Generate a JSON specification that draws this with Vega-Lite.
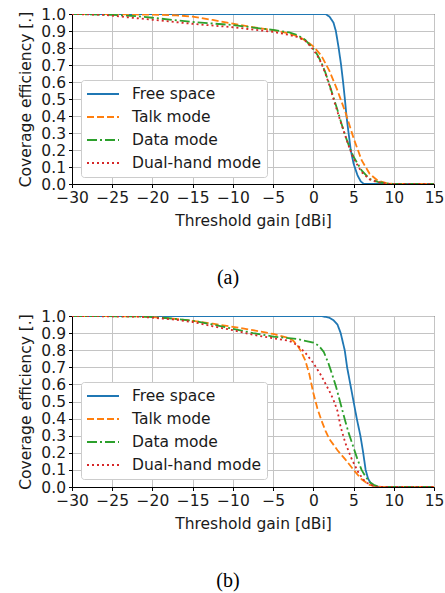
{
  "$schema": "https://vega.github.io/schema/vega-lite/v6.json",
  "padding": {"left": 18, "top": 6, "right": 2, "bottom": 2},
  "background": "white",
  "config": {
    "font": "DejaVu Sans",
    "view": {"stroke": "black", "strokeWidth": 1},
    "axis": {
      "labelFont": "DejaVu Sans", "labelFontSize": 15.5, "labelColor": "#1a1a1a",
      "titleFont": "DejaVu Sans", "titleFontSize": 15.5, "titleFontWeight": "normal", "titleColor": "#1a1a1a",
      "grid": true, "gridColor": "#c4c4c4", "gridWidth": 1,
      "domain": true, "domainColor": "black", "domainWidth": 1,
      "tickColor": "black", "tickSize": 3.5, "tickWidth": 1, "labelPadding": 3, "labelOverlap": false, "labelFlush": false
    },
    "legend": {
      "orient": "none", "legendX": 9, "legendY": 66,
      "fillColor": "white", "strokeColor": "#cccccc", "cornerRadius": 3, "padding": 5,
      "labelFont": "DejaVu Sans", "labelFontSize": 15.5, "labelColor": "#1a1a1a",
      "symbolType": "M-1,0H3", "symbolSize": 256, "symbolStrokeWidth": 1.8,
      "labelOffset": 28, "rowPadding": 5, "title": null
    },
    "title": {"font": "Liberation Serif", "fontSize": 20, "fontWeight": "normal", "color": "black"}
  },
  "datasets": {
    "panelA": [
      {"mode": "Free space", "x": -30, "y": 1},
      {"mode": "Free space", "x": 1.5, "y": 1},
      {"mode": "Free space", "x": 2.0, "y": 0.985},
      {"mode": "Free space", "x": 2.5, "y": 0.95},
      {"mode": "Free space", "x": 2.8, "y": 0.9},
      {"mode": "Free space", "x": 3.15, "y": 0.8},
      {"mode": "Free space", "x": 3.45, "y": 0.7},
      {"mode": "Free space", "x": 3.7, "y": 0.6},
      {"mode": "Free space", "x": 3.92, "y": 0.5},
      {"mode": "Free space", "x": 4.12, "y": 0.4},
      {"mode": "Free space", "x": 4.38, "y": 0.3},
      {"mode": "Free space", "x": 4.65, "y": 0.2},
      {"mode": "Free space", "x": 5.0, "y": 0.12},
      {"mode": "Free space", "x": 5.5, "y": 0.05},
      {"mode": "Free space", "x": 5.9, "y": 0.015},
      {"mode": "Free space", "x": 6.3, "y": 0},
      {"mode": "Free space", "x": 15, "y": 0},
      {"mode": "Talk mode", "x": -30, "y": 1},
      {"mode": "Talk mode", "x": -25, "y": 0.999},
      {"mode": "Talk mode", "x": -20, "y": 0.996},
      {"mode": "Talk mode", "x": -17, "y": 0.992},
      {"mode": "Talk mode", "x": -15, "y": 0.985},
      {"mode": "Talk mode", "x": -12.5, "y": 0.965},
      {"mode": "Talk mode", "x": -10, "y": 0.943},
      {"mode": "Talk mode", "x": -7.5, "y": 0.922},
      {"mode": "Talk mode", "x": -5, "y": 0.905},
      {"mode": "Talk mode", "x": -3, "y": 0.885},
      {"mode": "Talk mode", "x": -2, "y": 0.87},
      {"mode": "Talk mode", "x": -1, "y": 0.845},
      {"mode": "Talk mode", "x": 0, "y": 0.81},
      {"mode": "Talk mode", "x": 1, "y": 0.755},
      {"mode": "Talk mode", "x": 2, "y": 0.665},
      {"mode": "Talk mode", "x": 3, "y": 0.55},
      {"mode": "Talk mode", "x": 4, "y": 0.42},
      {"mode": "Talk mode", "x": 5, "y": 0.27},
      {"mode": "Talk mode", "x": 6, "y": 0.14},
      {"mode": "Talk mode", "x": 7, "y": 0.06},
      {"mode": "Talk mode", "x": 8, "y": 0.02},
      {"mode": "Talk mode", "x": 9, "y": 0.006},
      {"mode": "Talk mode", "x": 10, "y": 0},
      {"mode": "Talk mode", "x": 15, "y": 0},
      {"mode": "Data mode", "x": -30, "y": 1},
      {"mode": "Data mode", "x": -25, "y": 0.995},
      {"mode": "Data mode", "x": -22, "y": 0.987},
      {"mode": "Data mode", "x": -20, "y": 0.978},
      {"mode": "Data mode", "x": -15, "y": 0.953},
      {"mode": "Data mode", "x": -10, "y": 0.935},
      {"mode": "Data mode", "x": -5, "y": 0.906},
      {"mode": "Data mode", "x": -3, "y": 0.892},
      {"mode": "Data mode", "x": -2, "y": 0.877},
      {"mode": "Data mode", "x": -1, "y": 0.848},
      {"mode": "Data mode", "x": 0, "y": 0.795},
      {"mode": "Data mode", "x": 0.5, "y": 0.76},
      {"mode": "Data mode", "x": 1, "y": 0.715},
      {"mode": "Data mode", "x": 1.5, "y": 0.655},
      {"mode": "Data mode", "x": 2, "y": 0.585},
      {"mode": "Data mode", "x": 2.5, "y": 0.51},
      {"mode": "Data mode", "x": 3, "y": 0.435},
      {"mode": "Data mode", "x": 3.5, "y": 0.355},
      {"mode": "Data mode", "x": 4, "y": 0.28},
      {"mode": "Data mode", "x": 4.5, "y": 0.215},
      {"mode": "Data mode", "x": 5, "y": 0.16},
      {"mode": "Data mode", "x": 6, "y": 0.08},
      {"mode": "Data mode", "x": 7, "y": 0.03},
      {"mode": "Data mode", "x": 8, "y": 0.012},
      {"mode": "Data mode", "x": 9, "y": 0.004},
      {"mode": "Data mode", "x": 10, "y": 0},
      {"mode": "Data mode", "x": 15, "y": 0},
      {"mode": "Dual-hand mode", "x": -30, "y": 1},
      {"mode": "Dual-hand mode", "x": -26, "y": 0.995},
      {"mode": "Dual-hand mode", "x": -23, "y": 0.98},
      {"mode": "Dual-hand mode", "x": -20, "y": 0.966},
      {"mode": "Dual-hand mode", "x": -15, "y": 0.942},
      {"mode": "Dual-hand mode", "x": -10, "y": 0.922},
      {"mode": "Dual-hand mode", "x": -5, "y": 0.895},
      {"mode": "Dual-hand mode", "x": -3, "y": 0.877},
      {"mode": "Dual-hand mode", "x": -2, "y": 0.865},
      {"mode": "Dual-hand mode", "x": -1, "y": 0.843},
      {"mode": "Dual-hand mode", "x": 0, "y": 0.79},
      {"mode": "Dual-hand mode", "x": 0.5, "y": 0.755},
      {"mode": "Dual-hand mode", "x": 1, "y": 0.71},
      {"mode": "Dual-hand mode", "x": 1.5, "y": 0.65},
      {"mode": "Dual-hand mode", "x": 2, "y": 0.58},
      {"mode": "Dual-hand mode", "x": 2.5, "y": 0.5},
      {"mode": "Dual-hand mode", "x": 3, "y": 0.425},
      {"mode": "Dual-hand mode", "x": 3.5, "y": 0.35},
      {"mode": "Dual-hand mode", "x": 4, "y": 0.28},
      {"mode": "Dual-hand mode", "x": 4.5, "y": 0.21},
      {"mode": "Dual-hand mode", "x": 5, "y": 0.15},
      {"mode": "Dual-hand mode", "x": 6, "y": 0.07},
      {"mode": "Dual-hand mode", "x": 7, "y": 0.027},
      {"mode": "Dual-hand mode", "x": 8, "y": 0.01},
      {"mode": "Dual-hand mode", "x": 9, "y": 0.003},
      {"mode": "Dual-hand mode", "x": 10, "y": 0},
      {"mode": "Dual-hand mode", "x": 15, "y": 0}
    ],
    "panelB": [
      {"mode": "Free space", "x": -30, "y": 1},
      {"mode": "Free space", "x": 1, "y": 1},
      {"mode": "Free space", "x": 2, "y": 0.99},
      {"mode": "Free space", "x": 2.5, "y": 0.975},
      {"mode": "Free space", "x": 3, "y": 0.95},
      {"mode": "Free space", "x": 3.4, "y": 0.9},
      {"mode": "Free space", "x": 3.9, "y": 0.8},
      {"mode": "Free space", "x": 4.2, "y": 0.7},
      {"mode": "Free space", "x": 4.6, "y": 0.6},
      {"mode": "Free space", "x": 5, "y": 0.5},
      {"mode": "Free space", "x": 5.4, "y": 0.4},
      {"mode": "Free space", "x": 5.85, "y": 0.3},
      {"mode": "Free space", "x": 6.2, "y": 0.2},
      {"mode": "Free space", "x": 6.5, "y": 0.1},
      {"mode": "Free space", "x": 6.8, "y": 0.05},
      {"mode": "Free space", "x": 7.2, "y": 0.015},
      {"mode": "Free space", "x": 7.7, "y": 0},
      {"mode": "Free space", "x": 15, "y": 0},
      {"mode": "Talk mode", "x": -30, "y": 1},
      {"mode": "Talk mode", "x": -22, "y": 0.998},
      {"mode": "Talk mode", "x": -20, "y": 0.994},
      {"mode": "Talk mode", "x": -17.5, "y": 0.985},
      {"mode": "Talk mode", "x": -15, "y": 0.972},
      {"mode": "Talk mode", "x": -12.5, "y": 0.955},
      {"mode": "Talk mode", "x": -10, "y": 0.937},
      {"mode": "Talk mode", "x": -7.5, "y": 0.917},
      {"mode": "Talk mode", "x": -5, "y": 0.895},
      {"mode": "Talk mode", "x": -3, "y": 0.87},
      {"mode": "Talk mode", "x": -2.5, "y": 0.855},
      {"mode": "Talk mode", "x": -2, "y": 0.83},
      {"mode": "Talk mode", "x": -1.5, "y": 0.79},
      {"mode": "Talk mode", "x": -1, "y": 0.74},
      {"mode": "Talk mode", "x": -0.5, "y": 0.66},
      {"mode": "Talk mode", "x": 0, "y": 0.55},
      {"mode": "Talk mode", "x": 0.5, "y": 0.46},
      {"mode": "Talk mode", "x": 1, "y": 0.39},
      {"mode": "Talk mode", "x": 1.5, "y": 0.33},
      {"mode": "Talk mode", "x": 2, "y": 0.28},
      {"mode": "Talk mode", "x": 3, "y": 0.215},
      {"mode": "Talk mode", "x": 4, "y": 0.16},
      {"mode": "Talk mode", "x": 5, "y": 0.1},
      {"mode": "Talk mode", "x": 6, "y": 0.045},
      {"mode": "Talk mode", "x": 7, "y": 0.012},
      {"mode": "Talk mode", "x": 8, "y": 0.002},
      {"mode": "Talk mode", "x": 8.5, "y": 0},
      {"mode": "Talk mode", "x": 15, "y": 0},
      {"mode": "Data mode", "x": -30, "y": 1},
      {"mode": "Data mode", "x": -22, "y": 0.998},
      {"mode": "Data mode", "x": -20, "y": 0.994},
      {"mode": "Data mode", "x": -17.5, "y": 0.985},
      {"mode": "Data mode", "x": -15, "y": 0.972},
      {"mode": "Data mode", "x": -12.5, "y": 0.95},
      {"mode": "Data mode", "x": -10, "y": 0.925},
      {"mode": "Data mode", "x": -7.5, "y": 0.9},
      {"mode": "Data mode", "x": -5, "y": 0.88},
      {"mode": "Data mode", "x": -2, "y": 0.865},
      {"mode": "Data mode", "x": 0, "y": 0.845},
      {"mode": "Data mode", "x": 0.7, "y": 0.825},
      {"mode": "Data mode", "x": 1.3, "y": 0.79},
      {"mode": "Data mode", "x": 1.9, "y": 0.72},
      {"mode": "Data mode", "x": 2.4, "y": 0.65},
      {"mode": "Data mode", "x": 2.8, "y": 0.59},
      {"mode": "Data mode", "x": 3.2, "y": 0.52},
      {"mode": "Data mode", "x": 3.6, "y": 0.45},
      {"mode": "Data mode", "x": 4, "y": 0.38},
      {"mode": "Data mode", "x": 4.4, "y": 0.315},
      {"mode": "Data mode", "x": 5, "y": 0.23},
      {"mode": "Data mode", "x": 5.5, "y": 0.16},
      {"mode": "Data mode", "x": 6, "y": 0.1},
      {"mode": "Data mode", "x": 6.5, "y": 0.06},
      {"mode": "Data mode", "x": 7, "y": 0.03},
      {"mode": "Data mode", "x": 7.5, "y": 0.013},
      {"mode": "Data mode", "x": 8, "y": 0.004},
      {"mode": "Data mode", "x": 8.5, "y": 0},
      {"mode": "Data mode", "x": 15, "y": 0},
      {"mode": "Dual-hand mode", "x": -30, "y": 1},
      {"mode": "Dual-hand mode", "x": -22, "y": 0.997},
      {"mode": "Dual-hand mode", "x": -20, "y": 0.99},
      {"mode": "Dual-hand mode", "x": -17.5, "y": 0.98},
      {"mode": "Dual-hand mode", "x": -15, "y": 0.965},
      {"mode": "Dual-hand mode", "x": -12.5, "y": 0.94},
      {"mode": "Dual-hand mode", "x": -10, "y": 0.917},
      {"mode": "Dual-hand mode", "x": -7.5, "y": 0.89},
      {"mode": "Dual-hand mode", "x": -5, "y": 0.87},
      {"mode": "Dual-hand mode", "x": -3, "y": 0.855},
      {"mode": "Dual-hand mode", "x": -2, "y": 0.83},
      {"mode": "Dual-hand mode", "x": -1, "y": 0.785},
      {"mode": "Dual-hand mode", "x": 0, "y": 0.725},
      {"mode": "Dual-hand mode", "x": 1, "y": 0.65},
      {"mode": "Dual-hand mode", "x": 2, "y": 0.56},
      {"mode": "Dual-hand mode", "x": 2.5, "y": 0.51},
      {"mode": "Dual-hand mode", "x": 3, "y": 0.445},
      {"mode": "Dual-hand mode", "x": 3.4, "y": 0.35},
      {"mode": "Dual-hand mode", "x": 4, "y": 0.255},
      {"mode": "Dual-hand mode", "x": 4.8, "y": 0.16},
      {"mode": "Dual-hand mode", "x": 5.6, "y": 0.085},
      {"mode": "Dual-hand mode", "x": 6.2, "y": 0.045},
      {"mode": "Dual-hand mode", "x": 6.7, "y": 0.023},
      {"mode": "Dual-hand mode", "x": 7.5, "y": 0.006},
      {"mode": "Dual-hand mode", "x": 8, "y": 0},
      {"mode": "Dual-hand mode", "x": 15, "y": 0}
    ]
  },
  "spacing": 20,
  "resolve": {
    "scale": {"color": "independent", "strokeDash": "independent", "x": "independent", "y": "independent"},
    "legend": {"color": "independent", "strokeDash": "independent"}
  },
  "vconcat": [
    {
      "width": 362, "height": 170,
      "data": {"name": "panelA"},
      "title": {"text": "(a)", "orient": "bottom", "offset": 39, "dx": -25},
      "mark": {"type": "line", "strokeWidth": 1.8, "clip": true},
      "encoding": {
        "x": {"field": "x", "type": "quantitative", "title": "Threshold gain [dBi]",
              "scale": {"domain": [-30, 15], "nice": false},
              "axis": {"values": [-30, -25, -20, -15, -10, -5, 0, 5, 10, 15], "titlePadding": 7}},
        "y": {"field": "y", "type": "quantitative", "title": "Coverage efficiency [.]",
              "scale": {"domain": [0, 1], "nice": false},
              "axis": {"values": [0, 0.1, 0.2, 0.3, 0.4, 0.5, 0.6, 0.7, 0.8, 0.9, 1.0], "format": ".1f", "titlePadding": 7}},
        "color": {"field": "mode", "type": "nominal",
                  "scale": {"domain": ["Free space", "Talk mode", "Data mode", "Dual-hand mode"], "range": ["#1f77b4", "#ff7f0e", "#2ca02c", "#d62728"]}},
        "strokeDash": {"field": "mode", "type": "nominal",
                  "scale": {"domain": ["Free space", "Talk mode", "Data mode", "Dual-hand mode"], "range": [[1, 0], [7, 3], [10, 3, 2, 3], [2, 3]]}}
      }
    },
    {
      "width": 362, "height": 171,
      "data": {"name": "panelB"},
      "title": {"text": "(b)", "orient": "bottom", "offset": 39, "dx": -25},
      "mark": {"type": "line", "strokeWidth": 1.8, "clip": true},
      "encoding": {
        "x": {"field": "x", "type": "quantitative", "title": "Threshold gain [dBi]",
              "scale": {"domain": [-30, 15], "nice": false},
              "axis": {"values": [-30, -25, -20, -15, -10, -5, 0, 5, 10, 15], "titlePadding": 7}},
        "y": {"field": "y", "type": "quantitative", "title": "Coverage efficiency [.]",
              "scale": {"domain": [0, 1], "nice": false},
              "axis": {"values": [0, 0.1, 0.2, 0.3, 0.4, 0.5, 0.6, 0.7, 0.8, 0.9, 1.0], "format": ".1f", "titlePadding": 7}},
        "color": {"field": "mode", "type": "nominal",
                  "scale": {"domain": ["Free space", "Talk mode", "Data mode", "Dual-hand mode"], "range": ["#1f77b4", "#ff7f0e", "#2ca02c", "#d62728"]}},
        "strokeDash": {"field": "mode", "type": "nominal",
                  "scale": {"domain": ["Free space", "Talk mode", "Data mode", "Dual-hand mode"], "range": [[1, 0], [7, 3], [10, 3, 2, 3], [2, 3]]}}
      }
    }
  ]
}
